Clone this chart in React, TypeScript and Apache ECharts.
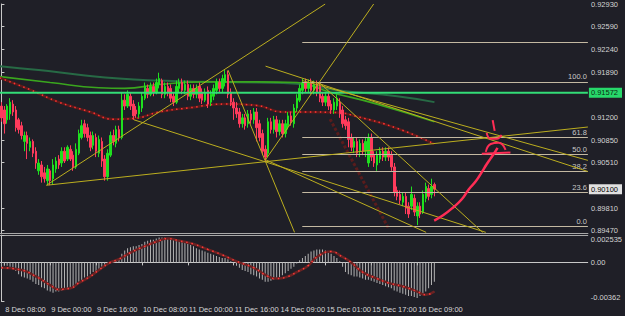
import React, { useEffect, useRef } from 'react';
import * as echarts from 'echarts';

// ---------- data ----------
const N = 205; // bar slots across the chart (last bars are empty shift area)
const timeLabels = ['8 Dec 08:00', '9 Dec 00:00', '9 Dec 16:00', '10 Dec 08:00', '11 Dec 00:00', '11 Dec 16:00', '14 Dec 09:00', '15 Dec 01:00', '15 Dec 17:00', '16 Dec 09:00'];
const timeLabelBars = [1, 17, 33, 49, 65, 81, 97, 113, 129, 145];

const opens = [
  0.9137, 0.9131, 0.9116, 0.9125, 0.9140, 0.9131, 0.9116, 0.9107, 0.9083, 0.9092,
  0.9074, 0.9083, 0.9068, 0.9038, 0.9047, 0.9035, 0.9023, 0.9038, 0.9026, 0.9041,
  0.9056, 0.9050, 0.9068, 0.9056, 0.9071, 0.9062, 0.9044, 0.9065, 0.9089, 0.9110,
  0.9104, 0.9092, 0.9077, 0.9089, 0.9065, 0.9083, 0.9056, 0.9029, 0.9062, 0.9092,
  0.9080, 0.9101, 0.9089, 0.9146, 0.9137, 0.9152, 0.9140, 0.9131, 0.9125, 0.9134,
  0.9149, 0.9164, 0.9155, 0.9167, 0.9158, 0.9170, 0.9176, 0.9155, 0.9167, 0.9164,
  0.9152, 0.9143, 0.9164, 0.9173, 0.9161, 0.9170, 0.9152, 0.9164, 0.9155, 0.9167,
  0.9158, 0.9146, 0.9161, 0.9143, 0.9152, 0.9161, 0.9173, 0.9164, 0.9173, 0.9185,
  0.9158, 0.9143, 0.9134, 0.9128, 0.9110, 0.9119, 0.9110, 0.9125, 0.9116, 0.9128,
  0.9110, 0.9095, 0.9071, 0.9065, 0.9113, 0.9101, 0.9116, 0.9098, 0.9110, 0.9095,
  0.9107, 0.9122, 0.9110, 0.9134, 0.9146, 0.9161, 0.9173, 0.9164, 0.9173, 0.9161,
  0.9170, 0.9167, 0.9152, 0.9143, 0.9152, 0.9140, 0.9131, 0.9137, 0.9143, 0.9131,
  0.9116, 0.9113, 0.9089, 0.9074, 0.9083, 0.9068, 0.9080, 0.9068, 0.9050, 0.9089,
  0.9062, 0.9047, 0.9056, 0.9068, 0.9059, 0.9068, 0.9062, 0.9044, 0.9008, 0.9002,
  0.8990, 0.8999, 0.8984, 0.8984, 0.8996, 0.8969, 0.8984, 0.8975, 0.8996, 0.9011,
  0.9002, 0.9017,
];
const closes = [
  0.9119, 0.9110, 0.9137, 0.9143, 0.9128, 0.9104, 0.9101, 0.9092, 0.9092, 0.9080,
  0.9083, 0.9065, 0.9050, 0.9050, 0.9029, 0.9026, 0.9041, 0.9023, 0.9047, 0.9053,
  0.9047, 0.9068, 0.9053, 0.9074, 0.9056, 0.9044, 0.9071, 0.9095, 0.9107, 0.9095,
  0.9089, 0.9074, 0.9092, 0.9068, 0.9086, 0.9053, 0.9029, 0.9065, 0.9092, 0.9083,
  0.9101, 0.9089, 0.9146, 0.9137, 0.9155, 0.9137, 0.9122, 0.9125, 0.9137, 0.9152,
  0.9167, 0.9155, 0.9167, 0.9158, 0.9173, 0.9179, 0.9155, 0.9167, 0.9158, 0.9149,
  0.9143, 0.9167, 0.9173, 0.9161, 0.9170, 0.9152, 0.9164, 0.9155, 0.9164, 0.9149,
  0.9146, 0.9158, 0.9140, 0.9155, 0.9164, 0.9173, 0.9164, 0.9179, 0.9185, 0.9155,
  0.9143, 0.9134, 0.9125, 0.9110, 0.9119, 0.9107, 0.9125, 0.9116, 0.9128, 0.9104,
  0.9089, 0.9068, 0.9059, 0.9113, 0.9101, 0.9116, 0.9098, 0.9110, 0.9095, 0.9110,
  0.9122, 0.9113, 0.9134, 0.9149, 0.9164, 0.9173, 0.9164, 0.9173, 0.9161, 0.9170,
  0.9158, 0.9149, 0.9143, 0.9152, 0.9137, 0.9131, 0.9143, 0.9149, 0.9125, 0.9110,
  0.9107, 0.9086, 0.9074, 0.9083, 0.9065, 0.9080, 0.9068, 0.9083, 0.9089, 0.9059,
  0.9050, 0.9062, 0.9068, 0.9059, 0.9068, 0.9059, 0.9044, 0.9005, 0.8999, 0.8993,
  0.8999, 0.8981, 0.8972, 0.9002, 0.8975, 0.8984, 0.8972, 0.9002, 0.9014, 0.8999,
  0.9014, 0.9010,
];
const lows = [
  0.9113, 0.9095, 0.9110, 0.9116, 0.9122, 0.9098, 0.9095, 0.9086, 0.9068, 0.9056,
  0.9068, 0.9059, 0.9041, 0.9032, 0.9020, 0.9020, 0.9017, 0.9016, 0.9017, 0.9035,
  0.9041, 0.9044, 0.9050, 0.9053, 0.9053, 0.9038, 0.9041, 0.9062, 0.9086, 0.9089,
  0.9083, 0.9068, 0.9071, 0.9059, 0.9059, 0.9044, 0.9023, 0.9023, 0.9059, 0.9077,
  0.9074, 0.9083, 0.9086, 0.9131, 0.9134, 0.9131, 0.9116, 0.9119, 0.9119, 0.9128,
  0.9146, 0.9149, 0.9152, 0.9152, 0.9155, 0.9164, 0.9149, 0.9149, 0.9152, 0.9143,
  0.9137, 0.9140, 0.9158, 0.9155, 0.9155, 0.9146, 0.9146, 0.9149, 0.9149, 0.9143,
  0.9140, 0.9143, 0.9134, 0.9137, 0.9146, 0.9155, 0.9158, 0.9158, 0.9167, 0.9149,
  0.9137, 0.9116, 0.9119, 0.9104, 0.9104, 0.9101, 0.9104, 0.9110, 0.9110, 0.9083,
  0.9083, 0.9062, 0.9053, 0.9059, 0.9095, 0.9095, 0.9089, 0.9092, 0.9089, 0.9089,
  0.9101, 0.9107, 0.9104, 0.9128, 0.9143, 0.9155, 0.9158, 0.9158, 0.9155, 0.9155,
  0.9152, 0.9143, 0.9137, 0.9137, 0.9131, 0.9125, 0.9125, 0.9131, 0.9119, 0.9104,
  0.9101, 0.9074, 0.9068, 0.9065, 0.9059, 0.9059, 0.9062, 0.9059, 0.9044, 0.9053,
  0.9044, 0.9038, 0.9050, 0.9053, 0.9053, 0.9053, 0.9038, 0.8999, 0.8993, 0.8987,
  0.8984, 0.8972, 0.8966, 0.8978, 0.8969, 0.8955, 0.8966, 0.8972, 0.8990, 0.8993,
  0.8996, 0.8999,
];
const highs = [
  0.9143, 0.9137, 0.9140, 0.9149, 0.9146, 0.9137, 0.9119, 0.9113, 0.9098, 0.9098,
  0.9089, 0.9086, 0.9074, 0.9056, 0.9053, 0.9044, 0.9047, 0.9041, 0.9056, 0.9059,
  0.9062, 0.9074, 0.9074, 0.9077, 0.9077, 0.9068, 0.9080, 0.9101, 0.9116, 0.9116,
  0.9110, 0.9098, 0.9098, 0.9095, 0.9092, 0.9089, 0.9062, 0.9071, 0.9098, 0.9101,
  0.9107, 0.9107, 0.9158, 0.9155, 0.9161, 0.9158, 0.9146, 0.9137, 0.9143, 0.9158,
  0.9173, 0.9170, 0.9173, 0.9173, 0.9179, 0.9188, 0.9179, 0.9173, 0.9173, 0.9170,
  0.9158, 0.9176, 0.9179, 0.9179, 0.9176, 0.9176, 0.9170, 0.9170, 0.9170, 0.9173,
  0.9164, 0.9164, 0.9167, 0.9161, 0.9170, 0.9179, 0.9179, 0.9185, 0.91925, 0.9191,
  0.9164, 0.9149, 0.9143, 0.9134, 0.9125, 0.9125, 0.9131, 0.9131, 0.9134, 0.9134,
  0.9116, 0.9101, 0.9077, 0.9119, 0.9119, 0.9122, 0.9122, 0.9116, 0.9116, 0.9116,
  0.9128, 0.9128, 0.9140, 0.9155, 0.9170, 0.9179, 0.9179, 0.91775, 0.9179, 0.9176,
  0.9176, 0.9173, 0.9158, 0.9158, 0.9158, 0.9146, 0.9149, 0.9155, 0.9149, 0.9137,
  0.9122, 0.9119, 0.9095, 0.9089, 0.9089, 0.9086, 0.9086, 0.9089, 0.9095, 0.9095,
  0.9068, 0.9068, 0.9074, 0.9074, 0.9074, 0.9074, 0.9068, 0.9050, 0.9014, 0.9008,
  0.9005, 0.9005, 0.8990, 0.9014, 0.9002, 0.8990, 0.8990, 0.9008, 0.9020, 0.9017,
  0.9026, 0.9020,
];

const macdHist = [
  -0.0003, -0.0003, -0.0003, -0.0004, -0.0005, -0.0008, -0.0011, -0.0013, -0.0014, -0.0015,
  -0.0016, -0.0018, -0.0020, -0.0021, -0.0023, -0.0024, -0.0026, -0.0027, -0.0028, -0.0027,
  -0.0027, -0.0026, -0.0025, -0.0024, -0.0023, -0.0022, -0.0020, -0.0018, -0.0016, -0.0014,
  -0.0013, -0.0011, -0.0009, -0.0008, -0.0006, -0.0004, -0.0003, -0.0002, -0.0001, 0.0001,
  0.0002, 0.0003, 0.0008, 0.0011, 0.0013, 0.0014, 0.0015, 0.0015, 0.0016, 0.0017,
  0.0019, 0.0020, 0.0021, 0.0021, 0.0022, 0.0023, 0.0023, 0.0023, 0.0022, 0.0022,
  0.0021, 0.0021, 0.0020, 0.0019, 0.0018, 0.0017, 0.0016, 0.0015, 0.0013, 0.0012,
  0.0011, 0.0010, 0.0009, 0.0008, 0.0007, 0.0006, 0.0005, 0.0004, 0.0004, 0.0003,
  0.0001, -0.0001, -0.0003, -0.0005, -0.0007, -0.0008, -0.0009, -0.0011, -0.0012, -0.0013,
  -0.0015, -0.0016, -0.0018, -0.0018, -0.0017, -0.0016, -0.0015, -0.0014, -0.0012, -0.0010,
  -0.0008, -0.0006, -0.0004, -0.0001, 0.0002, 0.0004, 0.0006, 0.0008, 0.0010, 0.0011,
  0.0012, 0.0012, 0.0012, 0.0011, 0.0010, 0.0008, 0.0006, 0.0004, 0.0001, -0.0004,
  -0.0009, -0.0011, -0.0012, -0.0013, -0.0013, -0.0014, -0.0015, -0.0016, -0.0016, -0.0017,
  -0.0018, -0.0019, -0.0020, -0.0021, -0.0022, -0.0023, -0.0024, -0.0026, -0.0027, -0.0028,
  -0.0029, -0.0030, -0.0031, -0.0031, -0.0032, -0.0033, -0.0031, -0.0029, -0.0027, -0.0024,
  -0.0021, -0.0018,
];
// signal line: [bar, value]
const macdSignal = [
  [0, -0.0005], [7, -0.0007], [12, -0.0013], [17, -0.0021], [20, -0.0025], [24, -0.0024],
  [27, -0.0019], [31, -0.0013], [34, -0.0007], [38, 0.0], [41, 0.0003], [45, 0.0009],
  [50, 0.0015], [55, 0.0020], [58, 0.0022], [62, 0.0020], [67, 0.0017], [72, 0.0012],
  [77, 0.0007], [82, 0.0001], [88, -0.0005], [93, -0.0013], [96, -0.0015], [100, -0.0013],
  [103, -0.0009], [107, -0.0003], [110, 0.0005], [115, 0.0010], [119, 0.0005], [122, 0.0],
  [126, -0.0009], [131, -0.0015], [135, -0.0019], [141, -0.0023], [145, -0.0027],
  [148, -0.0030], [151, -0.0027],
];

// moving averages: [bar, price]
const maSlow = [[-0.5, 0.9198], [13, 0.9192], [27, 0.9185], [41, 0.9179], [55, 0.9176], [72, 0.9174], [89, 0.9173], [103, 0.9171], [117, 0.9161], [138, 0.9152], [151, 0.9143]];
const maMid = [[-0.5, 0.9182], [17, 0.9173], [34, 0.9165], [43, 0.9164], [55, 0.9170], [72, 0.9174], [89, 0.9174], [103, 0.9173], [114, 0.9159], [131, 0.9140], [151, 0.9113]];
const maRed = [[-0.5, 0.9180], [10, 0.9162], [20, 0.9143], [31, 0.9128], [39, 0.9117], [46, 0.9118], [55, 0.9128], [65, 0.9134], [78, 0.9140], [89, 0.9138], [98, 0.9128], [106, 0.9128], [117, 0.9127], [124, 0.9121], [138, 0.9103], [151, 0.9079]];
const darkChannel = [[114.6, 0.9117], [135, 0.8950]];

// trend lines drawn on the chart: pairs of [bar, price]
const trendLines = [
  [[15.7, 0.9016], [112.9, 0.9293]],
  [[92.1, 0.9055], [129.8, 0.9293]],
  [[79.0, 0.9192], [102.2, 0.8944]],
  [[46.2, 0.9116], [168.9, 0.8944]],
  [[15.7, 0.9016], [204.5, 0.9105]],
  [[92.1, 0.9198], [204.5, 0.9037]],
  [[104.9, 0.9176], [204.5, 0.9054]],
  [[110.8, 0.9173], [167.8, 0.8944]],
  [[92.1, 0.9055], [148.1, 0.8944]],
];

// Fibonacci retracement
const fibHigh = 0.9174;
const fibLow = 0.8953;
const fibStartBar = 104.9;
const fibRatios = [0, 0.236, 0.382, 0.5, 0.618, 1, 1.272];
const fibNames = ['0.0', '23.6', '38.2', '50.0', '61.8', '100.0', ''];

const greenLevel = 0.91572;
const bidPrice = 0.901;

const priceTicks = [0.8947, 0.8981, 0.9051, 0.9085, 0.912, 0.9189, 0.9224, 0.9259, 0.9293];
const macdTicks = [-0.00362, 0, 0.002535];
const macdTickText = ['-0.00362', '0.00', '0.002535'];

// hand-drawn annotation strokes: [bar, price]
const annotArrow = [[150.9, 0.8962], [154.0, 0.8970], [157.5, 0.8982], [160.6, 0.8995], [163.0, 0.9010], [165.4, 0.9022], [167.5, 0.9036], [169.2, 0.9048], [170.6, 0.9057], [172.0, 0.9066], [173.0, 0.9073]];
const annotTick = [[171.3, 0.91155], [172.0, 0.9099]];
const annotHook = [[169.2, 0.9096], [170.6, 0.9087], [172.7, 0.9087], [174.4, 0.9093]];
const annotArc = [[168.9, 0.9067], [170.6, 0.9079], [173.4, 0.9081], [175.8, 0.9070]];
const annotBar = [[167.5, 0.9064], [177.5, 0.9066]];

// ---------- option ----------
const FONT = 'Liberation Sans, Arial, sans-serif';
const categories: string[] = Array.from({ length: N }, () => '');
timeLabelBars.forEach((b, i) => { categories[b] = timeLabels[i]; });

const candleData = opens.map((o, i) => [o, closes[i], lows[i], highs[i]]);

const yellow = '#bcae1f';
const lineSeries = (data: number[][], color: string, width: number, extra: any = {}) => ({
  type: 'line', xAxisIndex: 1, yAxisIndex: 0, data, symbol: 'none', silent: true,
  lineStyle: { color, width, ...(extra.lineStyle || {}) }, smooth: extra.smooth ?? false, z: extra.z ?? 3,
});

const fibMarks = fibRatios.map((r, i) => {
  const lvl = fibLow + r * (fibHigh - fibLow);
  return [
    { coord: [fibStartBar, lvl], name: fibNames[i] },
    { coord: [N - 0.5, lvl] },
  ];
});

const boxValues = [greenLevel, bidPrice];

const option: any = {
  animation: false,
  backgroundColor: '#1f1f27',
  textStyle: { fontFamily: FONT },
  grid: [
    { left: 0, top: 0, width: 593, height: 233 },
    { left: 0, top: 235, width: 593, height: 66.5 },
  ],
  xAxis: [
    { type: 'category', gridIndex: 0, data: categories, boundaryGap: true,
      axisLine: { show: true, lineStyle: { color: '#a8a8a8' } }, axisTick: { show: false }, axisLabel: { show: false }, splitLine: { show: false } },
    { type: 'value', gridIndex: 0, min: -0.5, max: N - 0.5, show: false },
    { type: 'category', gridIndex: 1, data: categories, boundaryGap: true,
      axisLine: { show: true, lineStyle: { color: '#c8c8c8' } },
      axisTick: { show: true, alignWithLabel: true, length: 3, interval: (i: number) => categories[i] !== '', lineStyle: { color: '#c8c8c8' } },
      axisLabel: { show: true, interval: (i: number) => categories[i] !== '', color: '#d8d8d8', fontSize: 7.5, fontFamily: FONT, align: 'left', margin: 4, padding: [0, 0, 0, 1] },
      splitLine: { show: false } },
    { type: 'value', gridIndex: 1, position: 'top', min: -0.5, max: N - 0.5,
      axisLine: { show: true, lineStyle: { color: '#a8a8a8' } }, axisTick: { show: false }, axisLabel: { show: false }, splitLine: { show: false } },
  ],
  yAxis: [
    { type: 'value', gridIndex: 0, position: 'right', min: 0.8943, max: 0.9293,
      axisLine: { show: true, lineStyle: { color: '#c8c8c8' } },
      axisTick: { show: true, customValues: priceTicks, length: 3, lineStyle: { color: '#c8c8c8' } },
      axisLabel: { show: true, customValues: priceTicks, formatter: (v: number) => v.toFixed(5), color: '#d4d4d4', fontSize: 7.5, fontFamily: FONT, margin: 3 },
      splitLine: { show: false } },
    { type: 'value', gridIndex: 1, position: 'right', min: -0.00362, max: 0.002535,
      axisLine: { show: true, lineStyle: { color: '#c8c8c8' } },
      axisTick: { show: true, customValues: macdTicks, length: 3, lineStyle: { color: '#c8c8c8' } },
      axisLabel: { show: true, customValues: macdTicks, formatter: (v: number) => macdTickText[macdTicks.indexOf(v)] ?? String(v),
        color: '#d4d4d4', fontSize: 7.5, fontFamily: FONT, margin: 3, verticalAlignMaxLabel: 'top', verticalAlignMinLabel: 'bottom' },
      splitLine: { show: false } },
    // price boxes (horizontal level + current bid)
    { type: 'value', gridIndex: 0, position: 'right', min: 0.8943, max: 0.9293, z: 10,
      axisLine: { show: false }, axisTick: { show: false }, splitLine: { show: false },
      axisLabel: { show: true, customValues: boxValues, margin: 1,
        formatter: (v: number) => (v === greenLevel ? `{g|${v.toFixed(5)}}` : `{w|${v.toFixed(5)}}`),
        rich: {
          g: { backgroundColor: '#27d86a', color: '#0c2a14', fontSize: 7.5, fontFamily: FONT, padding: [1, 4, 1, 2] },
          w: { backgroundColor: '#e0e0e0', color: '#000000', fontSize: 7.5, fontFamily: FONT, padding: [1, 4, 1, 2] },
        } } },
  ],
  series: [
    // fibonacci levels
    {
      type: 'line', xAxisIndex: 1, yAxisIndex: 0, data: [[fibStartBar, fibHigh], [145, fibLow]], symbol: 'none', silent: true,
      lineStyle: { opacity: 0 }, z: 2,
      markLine: {
        symbol: 'none', silent: true, animation: false,
        lineStyle: { color: '#c4b9a2', width: 1.2, type: 'solid' },
        label: { show: true, position: 'insideEndTop', formatter: '{b}', color: '#c8c8c8', fontSize: 7.5, fontFamily: FONT, distance: 1 },
        data: fibMarks,
      },
    },
    lineSeries(maSlow, '#276a45', 2, { smooth: true }),
    lineSeries(maMid, '#3aa61e', 1.6, { smooth: true }),
    lineSeries(maRed, '#5c1a1a', 2.5, { smooth: true }),
    lineSeries(maRed, '#ff3434', 1.5, { smooth: true, lineStyle: { type: [1.5, 3.5] } }),
    lineSeries(darkChannel, '#5a1c1c', 3, { lineStyle: { type: [3, 2] } }),
    {
      type: 'candlestick', xAxisIndex: 0, yAxisIndex: 0, data: candleData, barWidth: 2, silent: true, z: 4,
      itemStyle: { color: '#1fe01f', color0: '#ff3b5c', borderColor: '#1fe01f', borderColor0: '#ff3b5c', borderWidth: 1 },
    },
    // horizontal level line
    lineSeries([[-0.5, greenLevel], [N - 0.5, greenLevel]], '#33dd77', 2, { z: 5 }),
    ...trendLines.map((seg) => lineSeries(seg, yellow, 1, { z: 5 })),
    lineSeries(annotArrow, '#ff2d55', 2.5, { smooth: true, z: 6 }),
    lineSeries(annotTick, '#ff2d55', 2, { z: 6 }),
    lineSeries(annotHook, '#ff2d55', 2, { smooth: true, z: 6 }),
    lineSeries(annotArc, '#ff2d55', 2, { smooth: true, z: 6 }),
    lineSeries(annotBar, '#ff2d55', 2, { z: 6 }),
    // MACD
    { type: 'bar', xAxisIndex: 2, yAxisIndex: 1, data: macdHist, barWidth: 1, silent: true, itemStyle: { color: '#b4b4b4' } },
    { type: 'line', xAxisIndex: 3, yAxisIndex: 1, data: macdSignal, symbol: 'none', smooth: true, silent: true, lineStyle: { color: '#6a2222', width: 2.5 } },
    { type: 'line', xAxisIndex: 3, yAxisIndex: 1, data: macdSignal, symbol: 'none', smooth: true, silent: true, lineStyle: { color: '#ff3a3a', width: 1.5, type: [1.5, 4] } },
  ],
};

export default function App() {
  const ref = useRef<HTMLDivElement>(null);
  useEffect(() => {
    if (!ref.current) return;
    const chart = echarts.init(ref.current, undefined, { renderer: 'svg' });
    chart.setOption(option);
    return () => chart.dispose();
  }, []);
  return <div ref={ref} style={{ position: 'fixed', left: 0, top: 0, width: 625, height: 316 }} />;
}
